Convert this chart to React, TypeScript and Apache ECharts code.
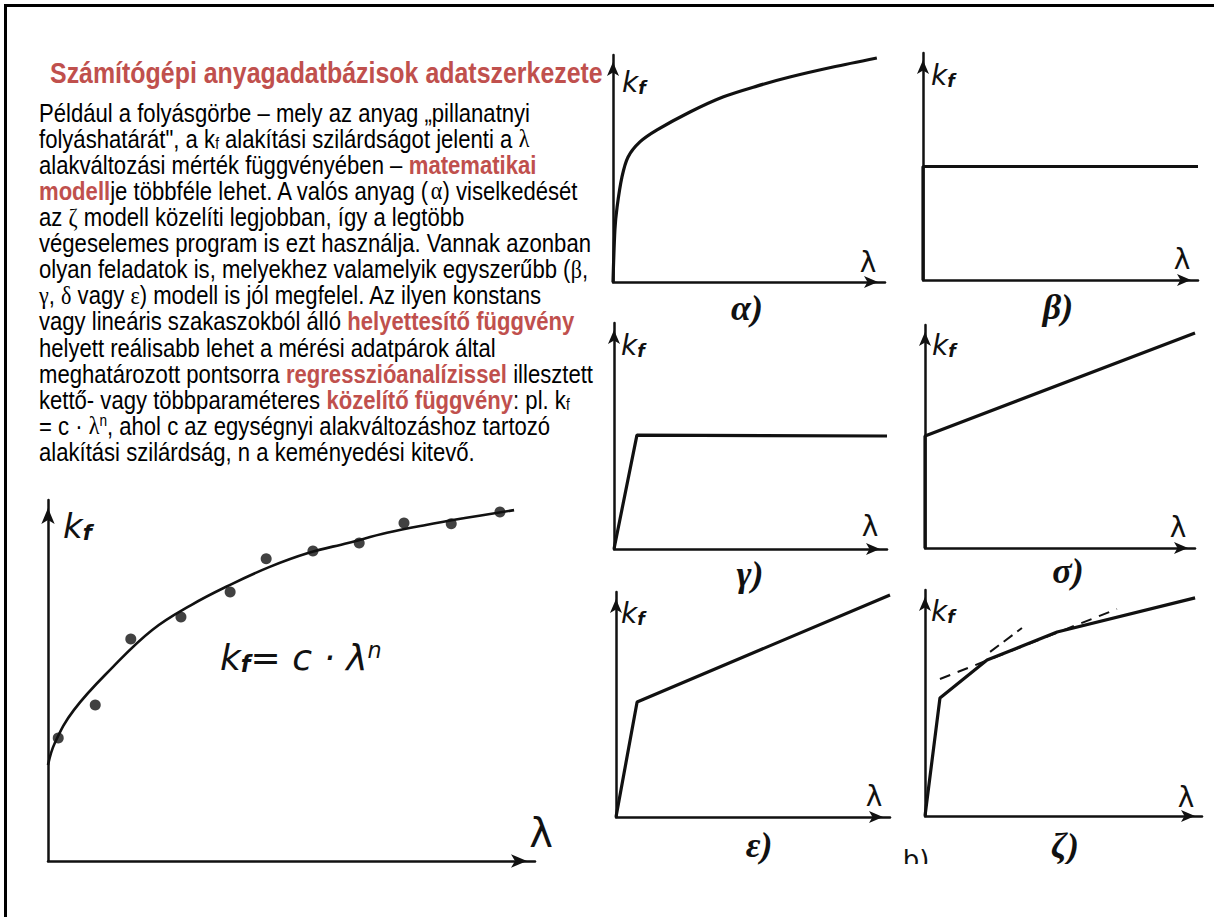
import React, { useEffect, useRef } from "react";
import * as echarts from "echarts";

// ---- Measured flow curve (relative units): λ and kf ----
const measuredLambda = [2.1, 9.7, 17.0, 27.3, 37.4, 44.8, 54.4, 63.9, 73.1, 82.8, 92.8];
const measuredKf = [34.1, 43.2, 61.5, 67.6, 74.5, 83.7, 85.9, 88.1, 93.6, 93.4, 96.7];
// fitted curve kf = c·λ^n
const fitLambda = [0, 1.4, 5.3, 13.3, 21.4, 29.4, 37.4, 45.4, 53.4, 61.6, 69.6, 77.6, 85.6, 95.7];
const fitKf = [26.6, 32.7, 41.8, 53.7, 64.0, 70.9, 76.5, 81.4, 85.3, 88.1, 90.9, 93.1, 95.0, 97.2];

// ---- Model curves α … ζ ----
const alphaLambda = [0, 0.7, 1.5, 3.3, 5.5, 9.9, 16.2, 28.3, 40.4, 52.9, 65, 80.9, 97];
const alphaKf = [0, 22.9, 33, 46.3, 55, 61.7, 67, 74.9, 81.5, 86.3, 90.3, 94.7, 98.7];
const betaLambda = [0, 0, 100];
const betaKf = [0, 50, 50];
const gammaLambda = [0, 8.4, 100];
const gammaKf = [0, 50.4, 50];
const deltaLambda = [0, 0, 100];
const deltaKf = [0, 50.2, 96.4];
const epsLambda = [0, 7.7, 100];
const epsKf = [0, 51.1, 98.7];
const zetaLambda = [0, 5.4, 22.4, 47.7, 97.5];
const zetaKf = [0, 52.2, 69, 81.4, 96.5];
const zetaTangentALambda = [5.4, 69.3];
const zetaTangentAKf = [60.6, 91.6];
const zetaTangentBLambda = [23.5, 35];
const zetaTangentBKf = [72.6, 83.2];

const modelNames = ["α)", "β)", "γ)", "σ)", "ε)", "ζ)"];

const TITLE = "Számítógépi anyagadatbázisok adatszerkezete";
// n: normal, r: red bold, g: greek (serif), sub / sup
const bodyLines: [string, string][][] = [
  [["n", "Például a folyásgörbe – mely az anyag „pillanatnyi"]],
  [["n", "folyáshatárát\", a k"], ["sub", "f"], ["n", " alakítási szilárdságot jelenti a "], ["g", "λ"]],
  [["n", "alakváltozási mérték függvényében – "], ["r", "matematikai"]],
  [["r", "modell"], ["n", "je többféle lehet. A valós anyag ("], ["g", "α"], ["n", ") viselkedését"]],
  [["n", "az "], ["g", "ζ"], ["n", " modell közelíti legjobban, így a legtöbb"]],
  [["n", "végeselemes program is ezt használja. Vannak azonban"]],
  [["n", "olyan feladatok is, melyekhez valamelyik egyszerűbb ("], ["g", "β"], ["n", ","]],
  [["g", "γ"], ["n", ", "], ["g", "δ"], ["n", " vagy "], ["g", "ε"], ["n", ") modell is jól megfelel. Az ilyen konstans"]],
  [["n", "vagy lineáris szakaszokból álló "], ["r", "helyettesítő függvény"]],
  [["n", "helyett reálisabb lehet a mérési adatpárok által"]],
  [["n", "meghatározott pontsorra "], ["r", "regresszióanalízissel"], ["n", " illesztett"]],
  [["n", "kettő- vagy többparaméteres "], ["r", "közelítő függvény"], ["n", ": pl. k"], ["sub", "f"]],
  [["n", "= c · "], ["g", "λ"], ["sup", "n"], ["n", ", ahol c az egységnyi alakváltozáshoz tartozó"]],
  [["n", "alakítási szilárdság, n a keményedési kitevő."]],
];

const RED = "#c0504d";
const INK = "#111";
const SANS = "'Liberation Sans', Arial, sans-serif";
const HAND = "'DejaVu Sans', sans-serif";
const SERIF = "'Liberation Serif', 'Times New Roman', serif";

// plot rectangles: big chart first, then α … ζ
const plots = [
  { left: 48, top: 500, width: 487, height: 361 },
  { left: 613, top: 55, width: 272, height: 227 },
  { left: 923, top: 53, width: 275, height: 227 },
  { left: 614, top: 323, width: 273, height: 226 },
  { left: 925, top: 325, width: 270, height: 223 },
  { left: 616, top: 592, width: 274, height: 225 },
  { left: 925, top: 590, width: 277, height: 226 },
];

const zip = (xs: number[], ys: number[]) => xs.map((x, i) => [x, ys[i]]);

function buildOption() {
  const grid = plots.map((p) => ({ ...p, containLabel: false }));
  const axisCommon = (i: number, big: boolean) => ({
    type: "value" as const,
    gridIndex: i,
    min: 0,
    max: 100,
    axisLine: {
      show: true,
      onZero: false,
      symbol: ["none", "arrow"],
      symbolSize: big ? [10, 16] : [9, 14],
      symbolOffset: [0, big ? -8 : -7],
      lineStyle: { color: INK, width: 2.5 },
    },
    axisTick: { show: false },
    axisLabel: { show: false },
    splitLine: { show: false },
  });
  const xAxis = plots.map((_, i) => axisCommon(i, i === 0));
  const yAxis = plots.map((_, i) => axisCommon(i, i === 0));

  const line = (i: number, xs: number[], ys: number[], extra: any = {}) => ({
    type: "line",
    xAxisIndex: i,
    yAxisIndex: i,
    data: zip(xs, ys),
    symbol: "none",
    clip: false,
    lineStyle: { color: INK, width: 3.2, ...(extra.lineStyle || {}) },
    smooth: extra.smooth ?? false,
    z: 3,
  });

  const series: any[] = [
    line(0, fitLambda, fitKf, { smooth: 0.4, lineStyle: { width: 2.6 } }),
    {
      type: "scatter",
      xAxisIndex: 0,
      yAxisIndex: 0,
      data: zip(measuredLambda, measuredKf),
      symbolSize: 11,
      itemStyle: { color: INK },
      z: 4,
    },
    line(1, alphaLambda, alphaKf, { smooth: 0.3 }),
    line(2, betaLambda, betaKf),
    line(3, gammaLambda, gammaKf),
    line(4, deltaLambda, deltaKf),
    line(5, epsLambda, epsKf),
    line(6, zetaLambda, zetaKf),
    line(6, zetaTangentALambda, zetaTangentAKf, { lineStyle: { width: 2, type: [11, 8] } }),
    line(6, zetaTangentBLambda, zetaTangentBKf, { lineStyle: { width: 2, type: [11, 6] } }),
  ];

  // ---------- texts ----------
  const graphic: any[] = [];
  // slide frame
  graphic.push({ type: "rect", shape: { x: 4, y: 4, width: 3, height: 913 }, style: { fill: "#000" }, silent: true });
  graphic.push({ type: "rect", shape: { x: 4, y: 4, width: 1210, height: 3 }, style: { fill: "#000" }, silent: true });

  graphic.push({
    type: "text",
    x: 50,
    y: 73,
    scaleX: 0.86,
    silent: true,
    style: {
      text: TITLE,
      fill: RED,
      fontFamily: SANS,
      fontWeight: "bold",
      fontSize: 29,
      align: "left",
      verticalAlign: "middle",
    },
  });

  const rich = {
    n: { fontFamily: SANS, fontSize: 26, fill: "#000", lineHeight: 26 },
    r: { fontFamily: SANS, fontSize: 26, fontWeight: "bold", fill: RED, lineHeight: 26 },
    g: { fontFamily: SERIF, fontSize: 26, fill: "#000", lineHeight: 26 },
    sub: { fontFamily: SANS, fontSize: 16, fill: "#000", lineHeight: 16, verticalAlign: "bottom" },
    sup: { fontFamily: SANS, fontSize: 16, fill: "#000", lineHeight: 16, verticalAlign: "top" },
  };
  bodyLines.forEach((segs, i) => {
    const text = segs.map(([k, t]) => `{${k}|${t}}`).join("");
    graphic.push({
      type: "text",
      x: 39,
      y: 112.5 + 26.1 * i,
      scaleX: 0.85,
      silent: true,
      style: { text, rich, align: "left", verticalAlign: "middle" },
    });
  });

  // axis names: kf and λ
  const kfRich = (size: number, italic: boolean) => ({
    k: { fontFamily: HAND, fontStyle: italic ? "italic" : "normal", fontSize: size, fill: INK, lineHeight: size },
    f: {
      fontFamily: HAND,
      fontStyle: italic ? "italic" : "normal",
      fontWeight: "bold",
      fontSize: size * 0.62,
      fill: INK,
      lineHeight: size * 0.62,
      verticalAlign: "bottom",
    },
    e: { fontFamily: HAND, fontStyle: italic ? "italic" : "normal", fontSize: size, fill: INK, lineHeight: size },
    s: { fontFamily: HAND, fontStyle: "italic", fontSize: size * 0.62, fill: INK, lineHeight: size * 0.62, verticalAlign: "top" },
  });
  const kfPos = [
    [63, 526, 34],
    [622, 82, 28],
    [931, 75, 28],
    [621, 345, 28],
    [932, 345, 28],
    [621, 613, 28],
    [931, 611, 28],
  ];
  kfPos.forEach(([x, y, s]) => {
    graphic.push({
      type: "text",
      x,
      y,
      silent: true,
      style: { text: "{k|k}{f|f}", rich: kfRich(s, true), align: "left", verticalAlign: "middle" },
    });
  });
  // formula in the big chart
  graphic.push({
    type: "text",
    x: 220,
    y: 657,
    silent: true,
    style: {
      text: "{k|k}{f|f}{e|= c · λ}{s|n}",
      rich: kfRich(36, true),
      align: "left",
      verticalAlign: "middle",
    },
  });

  const lamPos = [
    [541, 833, 40],
    [868, 262, 28],
    [1182, 259, 28],
    [870, 526, 28],
    [1178, 527, 28],
    [874, 796, 28],
    [1186, 797, 28],
  ];
  lamPos.forEach(([x, y, s]) => {
    graphic.push({
      type: "text",
      x,
      y,
      silent: true,
      style: { text: "λ", fontFamily: HAND, fontSize: s, fill: INK, align: "center", verticalAlign: "middle" },
    });
  });

  const namePos = [
    [747, 308],
    [1058, 307],
    [750, 574],
    [1068, 571],
    [759, 845],
    [1065, 846],
  ];
  namePos.forEach(([x, y], i) => {
    graphic.push({
      type: "text",
      x,
      y,
      silent: true,
      style: {
        text: modelNames[i],
        fontFamily: SERIF,
        fontStyle: "italic",
        fontWeight: "bold",
        fontSize: 36,
        fill: INK,
        align: "center",
        verticalAlign: "middle",
      },
    });
  });
  graphic.push({
    type: "text",
    x: 916,
    y: 860,
    silent: true,
    style: { text: "b)", fontFamily: HAND, fontSize: 26, fill: INK, align: "center", verticalAlign: "middle" },
  });
  // scanned figure ends here
  graphic.push({
    type: "rect",
    shape: { x: 880, y: 864, width: 334, height: 53 },
    style: { fill: "#fff" },
    silent: true,
    z: 100,
  });

  return {
    animation: false,
    backgroundColor: "#fff",
    grid,
    xAxis,
    yAxis,
    series,
    graphic: { elements: graphic },
  };
}

export default function App() {
  const ref = useRef<HTMLDivElement>(null);
  useEffect(() => {
    if (!ref.current) return;
    const chart = echarts.init(ref.current, null, { renderer: "svg" });
    chart.setOption(buildOption() as any);
    return () => chart.dispose();
  }, []);
  return (
    <div
      ref={ref}
      style={{ position: "absolute", left: 0, top: 0, width: 1214, height: 917, background: "#fff" }}
    />
  );
}
